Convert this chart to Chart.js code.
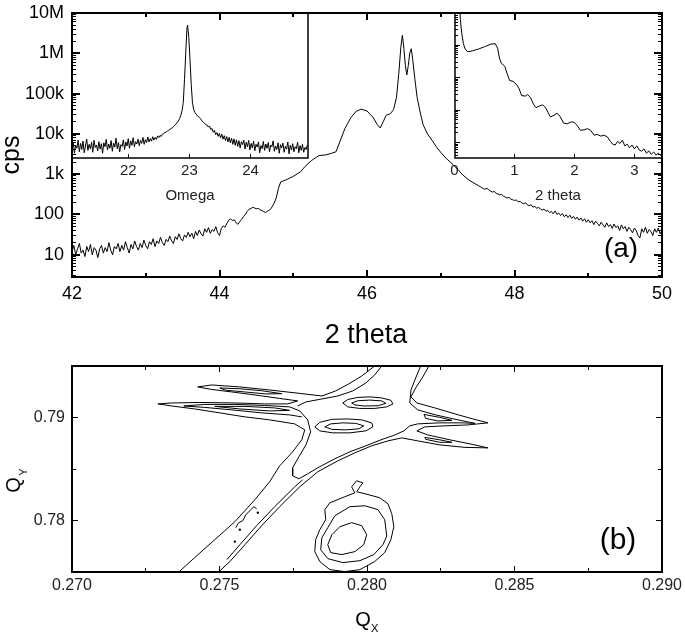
<!DOCTYPE html>
<html>
<head>
<meta charset="utf-8">
<script src="https://cdn.jsdelivr.net/npm/chart.js@4.4.1/dist/chart.umd.min.js"></script>
<style>
html, body { margin: 0; padding: 0; background: #fff; }
#wrap { position: relative; width: 685px; height: 635px; }
#wrap canvas { position: absolute; left: 0; top: 0; }
</style>
</head>
<body>
<div id="wrap">
  <canvas id="contour" width="685" height="635"></canvas>
  <canvas id="omega" width="685" height="635"></canvas>
  <canvas id="refl" width="685" height="635"></canvas>
  <canvas id="main" width="685" height="635"></canvas>
</div>
<script>
// ---- (a) main 2theta scan: [2theta, cps] ----
var mainScan = [
  [42.000,12],[42.025,17],[42.050,10],[42.075,14],[42.100,19],[42.125,11],[42.150,13],[42.175,9],[42.200,16],[42.225,12],
  [42.250,18],[42.275,10],[42.300,15],[42.325,13],[42.350,8.5],[42.375,14],[42.400,17],[42.425,11],[42.450,15],[42.475,12],
  [42.500,20],[42.525,13],[42.550,10],[42.575,16],[42.600,14],[42.625,19],[42.650,12],[42.675,17],[42.700,13],[42.725,21],
  [42.750,15],[42.775,11],[42.800,18],[42.825,14],[42.850,22],[42.875,16],[42.900,13],[42.925,19],[42.950,15],[42.975,23],
  [43.000,17],[43.025,14],[43.050,21],[43.075,18],[43.100,25],[43.125,16],[43.150,22],[43.175,19],[43.200,27],[43.225,20],
  [43.250,17],[43.275,24],[43.300,21],[43.325,29],[43.350,22],[43.375,19],[43.400,28],[43.425,24],[43.450,33],[43.475,25],
  [43.500,22],[43.525,31],[43.550,27],[43.575,36],[43.600,28],[43.625,34],[43.650,25],[43.675,38],[43.700,30],[43.725,41],
  [43.750,33],[43.775,29],[43.800,44],[43.825,36],[43.850,47],[43.875,34],[43.900,42],[43.925,38],[43.950,50],[43.975,35],
  [44.000,30],[44.025,45],[44.050,52],[44.075,48],[44.100,60],[44.125,72],[44.150,78],[44.175,70],[44.200,74],[44.225,62],
  [44.250,57],[44.275,66],[44.300,75],[44.325,88],[44.350,100],[44.375,118],[44.400,135],[44.425,140],[44.450,150],[44.475,145],
  [44.500,138],[44.525,142],[44.550,130],[44.575,124],[44.600,118],[44.625,112],[44.650,120],[44.675,128],[44.700,140],[44.740,190],
  [44.770,260],[44.800,450],[44.830,640],[44.900,720],[45.000,880],[45.100,1150],[45.160,1550],[45.250,2200],[45.350,2900],[45.440,3000],
  [45.520,3300],[45.580,3600],[45.640,7000],[45.700,13500],[45.780,25000],[45.850,36000],[45.920,41000],[46.000,37000],[46.080,26000],[46.140,17000],
  [46.180,14000],[46.220,20000],[46.260,29000],[46.320,32000],[46.360,40000],[46.400,80000],[46.430,300000],[46.460,1500000],[46.480,2800000],[46.500,1300000],
  [46.520,500000],[46.540,290000],[46.560,500000],[46.580,1000000],[46.600,1300000],[46.620,700000],[46.650,220000],[46.680,80000],[46.720,35000],[46.760,17000],
  [46.820,10000],[46.880,7000],[46.950,4500],[47.010,3300],[47.080,2400],[47.170,1700],[47.240,1250],[47.300,950],[47.380,720],[47.450,600],
  [47.510,520],[47.550,470],[47.575,440],[47.600,420],[47.625,445],[47.650,410],[47.675,380],[47.700,360],[47.725,370],[47.750,335],
  [47.775,320],[47.800,305],[47.825,315],[47.850,285],[47.875,270],[47.900,255],[47.925,265],[47.950,240],[47.975,232],[48.000,222],
  [48.025,230],[48.050,205],[48.075,212],[48.100,192],[48.125,185],[48.150,195],[48.175,172],[48.200,165],[48.225,174],[48.250,152],
  [48.275,160],[48.300,142],[48.325,150],[48.350,138],[48.375,128],[48.400,136],[48.425,120],[48.450,126],[48.475,112],[48.500,118],
  [48.525,104],[48.550,122],[48.575,100],[48.600,108],[48.625,94],[48.650,105],[48.675,88],[48.700,98],[48.725,84],[48.750,96],
  [48.775,80],[48.800,90],[48.825,76],[48.850,86],[48.875,72],[48.900,82],[48.925,68],[48.950,78],[48.975,64],[49.000,74],
  [49.025,62],[49.050,70],[49.075,56],[49.100,68],[49.125,60],[49.150,52],[49.175,64],[49.200,55],[49.225,48],[49.250,62],
  [49.275,50],[49.300,56],[49.325,45],[49.350,58],[49.375,47],[49.400,52],[49.425,40],[49.450,55],[49.475,44],[49.500,50],
  [49.525,38],[49.550,48],[49.575,42],[49.600,35],[49.625,46],[49.650,40],[49.675,30],[49.700,26],[49.725,44],[49.750,36],
  [49.775,48],[49.800,34],[49.825,42],[49.850,38],[49.875,30],[49.900,44],[49.925,36],[49.950,46],[49.975,33],[50.000,40]];
var mainXTicks = [42, 44, 46, 48, 50];
var mainXMinor = [43, 45, 47, 49];
var mainYTicks = [10, 100, 1000, 10000, 100000, 1000000, 10000000];
var mainYLabels = ['10', '100', '1k', '10k', '100k', '1M', '10M'];

// ---- inset: omega rocking curve [omega, cps] ----
var omegaScan = [
  [21.08,4200],[21.10,6100],[21.12,3300],[21.14,5200],[21.16,4400],[21.18,7000],[21.20,3600],[21.22,5800],[21.24,4100],[21.26,6600],
  [21.28,3400],[21.30,5000],[21.32,7400],[21.34,3900],[21.36,5500],[21.38,4300],[21.40,6200],[21.42,3500],[21.44,6900],[21.46,4600],
  [21.48,5300],[21.50,3800],[21.52,6400],[21.54,4200],[21.56,5700],[21.58,3300],[21.60,6000],[21.62,4800],[21.64,7300],[21.66,4000],
  [21.68,5600],[21.70,4400],[21.72,6800],[21.74,3700],[21.76,5900],[21.78,4700],[21.80,7800],[21.82,4300],[21.84,6100],[21.86,3600],
  [21.88,5400],[21.90,4900],[21.92,7100],[21.94,4100],[21.96,6300],[21.98,5000],[22.00,7600],[22.02,4400],[22.04,6700],[22.06,5200],
  [22.08,8000],[22.10,4800],[22.12,6400],[22.14,5600],[22.16,7400],[22.18,5100],[22.20,6900],[22.22,5800],[22.24,8200],[22.26,5500],
  [22.28,7200],[22.30,6100],[22.32,8400],[22.34,6300],[22.36,7600],[22.38,6600],[22.40,8500],[22.42,7000],[22.44,8200],[22.46,7300],
  [22.48,8900],[22.50,8100],[22.52,9200],[22.54,8600],[22.56,9900],[22.58,10200],[22.60,10800],[22.62,11000],[22.64,11800],[22.66,12200],
  [22.68,12800],[22.70,13500],[22.72,14200],[22.74,15000],[22.76,16200],[22.78,17500],[22.80,19000],[22.82,21000],[22.84,24000],[22.86,29000],
  [22.88,38000],[22.90,60000],[22.92,220000],[22.94,1000000],[22.96,4200000],[22.97,5000000],[22.99,2500000],[23.01,700000],[23.03,170000],[23.05,60000],
  [23.07,40000],[23.09,34000],[23.11,31000],[23.13,28000],[23.15,27000],[23.17,24500],[23.19,23000],[23.21,20500],[23.23,19500],[23.25,18000],
  [23.27,17000],[23.29,16500],[23.31,14800],[23.33,15600],[23.35,12800],[23.37,13600],[23.39,11000],[23.41,12200],[23.43,9600],[23.45,10800],
  [23.47,8700],[23.49,10300],[23.51,8000],[23.53,9800],[23.55,7400],[23.57,9000],[23.59,6800],[23.61,8600],[23.63,6300],[23.65,8200],
  [23.67,6000],[23.69,7800],[23.71,5500],[23.73,7500],[23.75,5200],[23.77,7100],[23.79,4900],[23.81,6800],[23.83,4500],[23.85,6400],
  [23.87,5400],[23.89,7000],[23.91,4200],[23.93,6200],[23.95,4800],[23.97,6900],[23.99,4000],[24.01,5800],[24.03,4500],[24.05,6600],
  [24.07,3800],[24.09,5500],[24.11,4700],[24.13,6300],[24.15,3400],[24.17,5100],[24.19,4300],[24.21,6500],[24.23,3900],[24.25,5600],
  [24.27,4400],[24.29,6100],[24.31,3600],[24.33,5300],[24.35,4800],[24.37,6700],[24.39,3700],[24.41,5000],[24.43,4100],[24.45,6000],
  [24.47,3300],[24.49,5400],[24.51,4500],[24.53,5900],[24.55,3500],[24.57,4900],[24.59,4200],[24.61,6300],[24.63,3200],[24.65,5200],
  [24.67,4000],[24.69,5700],[24.71,3600],[24.73,4800],[24.75,4300],[24.77,6200],[24.79,3400],[24.81,5100],[24.83,3900],[24.85,5500],
  [24.87,3500],[24.89,4600],[24.91,4100],[24.93,5300]];
var omegaTicks = [22, 23, 24];

// ---- inset: low angle 2theta [2theta, cps] ----
var reflScan = [
  [0.08,200000],[0.10,60000],[0.12,25000],[0.15,11000],[0.18,7500],[0.22,6200],[0.30,6600],[0.40,7500],[0.50,8800],[0.60,10500],
  [0.68,11000],[0.72,8000],[0.75,4000],[0.78,2800],[0.84,2200],[0.88,1300],[0.92,820],[0.98,760],[1.04,600],[1.08,450],
  [1.12,280],[1.18,270],[1.22,300],[1.27,240],[1.32,150],[1.36,120],[1.42,135],[1.47,145],[1.52,120],[1.56,85],
  [1.60,62],[1.66,70],[1.71,80],[1.76,65],[1.82,40],[1.88,38],[1.95,44],[2.00,42],[2.05,33],[2.10,24],
  [2.16,25],[2.22,27],[2.27,24],[2.33,17],[2.38,18],[2.44,16],[2.50,17],[2.55,15],[2.60,11],[2.64,9],
  [2.68,8.5],[2.72,11],[2.76,9.5],[2.80,12],[2.84,8],[2.88,9],[2.92,7],[2.96,8.5],[3.00,6.5],[3.04,8],
  [3.08,6],[3.12,5.5],[3.16,6.5],[3.20,4.8],[3.24,5.6],[3.28,4.4],[3.32,5.2],[3.36,4.2],[3.40,4.8],[3.44,4.0],[3.48,4.5]];
var reflTicks = [0, 1, 2, 3];
var reflYTicks = [10, 100, 1000, 10000];

// ---- (b) reciprocal space map, contour lines [Qx, Qy] ----
var qxTicks = [0.270, 0.275, 0.280, 0.285, 0.290];
var qxMinor = [0.2725, 0.2775, 0.2825, 0.2875];
var qyTicks = [0.78, 0.79];
var qyMinor = [0.785];
var contourOuterLeft = [[0.27362,0.77500],[0.27416,0.77640],[0.27484,0.77814],[0.27552,0.77988],[0.27620,0.78202],[0.27670,0.78376],[0.27704,0.78531],[0.27745,0.78657],[0.27779,0.78783],[0.27789,0.78880],[0.27755,0.78938],[0.27670,0.78977],[0.27586,0.79006],[0.27501,0.79045],[0.27416,0.79083],[0.27338,0.79112],[0.27291,0.79132],[0.27338,0.79141],[0.27433,0.79146],[0.27552,0.79141],[0.27653,0.79132],[0.27731,0.79132],[0.27765,0.79161],[0.27704,0.79185],[0.27620,0.79219],[0.27542,0.79248],[0.27474,0.79272],[0.27426,0.79297],[0.27474,0.79316],[0.27569,0.79297],[0.27670,0.79267],[0.27772,0.79234],[0.27847,0.79209],[0.27894,0.79258],[0.27938,0.79326],[0.27982,0.79403],[0.28013,0.79471],[0.28026,0.79500]];
var contourOuterRight = [[0.28210,0.79500],[0.28189,0.79393],[0.28165,0.79287],[0.28149,0.79200],[0.28169,0.79141],[0.28230,0.79093],[0.28298,0.79035],[0.28359,0.78986],[0.28410,0.78948],[0.28342,0.78928],[0.28264,0.78919],[0.28196,0.78909],[0.28169,0.78870],[0.28206,0.78831],[0.28281,0.78783],[0.28349,0.78744],[0.28410,0.78705],[0.28332,0.78710],[0.28247,0.78734],[0.28172,0.78773],[0.28118,0.78802],[0.28071,0.78773],[0.28016,0.78725],[0.27959,0.78657],[0.27901,0.78579],[0.27833,0.78473],[0.27772,0.78327],[0.27704,0.78134],[0.27643,0.77950],[0.27586,0.77765],[0.27535,0.77601],[0.27497,0.77500]];
var contourStreakRight = [[0.27525,0.77620],[0.27569,0.77765],[0.27626,0.77950],[0.27687,0.78134],[0.27755,0.78327],[0.27782,0.78395]];
var contourInner = [[0.27779,0.79006],[0.27738,0.79025],[0.27643,0.79045],[0.27542,0.79074],[0.27450,0.79098],[0.27379,0.79112],[0.27450,0.79127],[0.27552,0.79127],[0.27653,0.79117],[0.27738,0.79103],[0.27772,0.79064],[0.27799,0.78977],[0.27809,0.78860],[0.27793,0.78734],[0.27769,0.78618],[0.27748,0.78512],[0.27748,0.78434],[0.27769,0.78405],[0.27799,0.78453],[0.27833,0.78512],[0.27891,0.78599],[0.27942,0.78667],[0.27996,0.78725],[0.28047,0.78783],[0.28091,0.78827],[0.28125,0.78870],[0.28145,0.78919],[0.28172,0.78938],[0.28247,0.78948],[0.28322,0.78948],[0.28366,0.78943],[0.28308,0.78977],[0.28233,0.79025],[0.28172,0.79074],[0.28145,0.79141],[0.28149,0.79267],[0.28165,0.79384],[0.28182,0.79500]];
var contourTopLeft = [[0.28050,0.79500],[0.28026,0.79413],[0.27996,0.79335],[0.27952,0.79258],[0.27901,0.79209],[0.27847,0.79180],[0.27793,0.79151],[0.27765,0.79112]];
var contourArmLeft = [[0.27501,0.79287],[0.27569,0.79279],[0.27643,0.79260],[0.27711,0.79231],[0.27657,0.79229],[0.27586,0.79248],[0.27521,0.79265],[0.27501,0.79287]];
var contourArmLeftLow = [[0.27484,0.79108],[0.27586,0.79108],[0.27687,0.79093],[0.27738,0.79069],[0.27670,0.79064],[0.27569,0.79083],[0.27484,0.79108]];
var contourPeakUpper = [[0.27918,0.79141],[0.27935,0.79175],[0.27969,0.79195],[0.28010,0.79200],[0.28050,0.79190],[0.28081,0.79167],[0.28088,0.79132],[0.28067,0.79103],[0.28026,0.79088],[0.27976,0.79088],[0.27935,0.79103],[0.27918,0.79141]];
var contourPeakUpperIn = [[0.27948,0.79141],[0.27969,0.79163],[0.28010,0.79169],[0.28050,0.79161],[0.28064,0.79137],[0.28037,0.79114],[0.27989,0.79112],[0.27959,0.79122],[0.27948,0.79141]];
var contourPeakLower = [[0.27823,0.78909],[0.27840,0.78953],[0.27881,0.78982],[0.27935,0.78986],[0.27982,0.78977],[0.28016,0.78948],[0.28020,0.78909],[0.27996,0.78870],[0.27942,0.78851],[0.27884,0.78851],[0.27840,0.78870],[0.27823,0.78909]];
var contourPeakLowerIn = [[0.27857,0.78909],[0.27877,0.78938],[0.27918,0.78948],[0.27962,0.78943],[0.27989,0.78919],[0.27972,0.78890],[0.27928,0.78880],[0.27881,0.78885],[0.27857,0.78909]];
var contourArmRight = [[0.28193,0.79030],[0.28247,0.79001],[0.28288,0.78972],[0.28240,0.78967],[0.28199,0.78991],[0.28193,0.79030]];
var contourArmRightLow = [[0.28196,0.78807],[0.28247,0.78783],[0.28288,0.78759],[0.28247,0.78759],[0.28199,0.78788],[0.28196,0.78807]];
var contourStreakNoise = [[0.27555,0.77930],[0.27565,0.77979],[0.27579,0.77998],[0.27589,0.78056],[0.27603,0.78095],[0.27616,0.78134],[0.27626,0.78114]];
var contourDots = [[0.27552,0.77795],[0.27630,0.78076],[0.27569,0.77911]];
var contourSubOuter = [[0.27965,0.78386],[0.27986,0.78366],[0.27976,0.78327],[0.27965,0.78279],[0.27993,0.78260],[0.28043,0.78221],[0.28071,0.78163],[0.28084,0.78066],[0.28091,0.77940],[0.28081,0.77814],[0.28060,0.77688],[0.28026,0.77601],[0.27976,0.77523],[0.27925,0.77504],[0.27874,0.77523],[0.27840,0.77601],[0.27823,0.77698],[0.27826,0.77814],[0.27840,0.77911],[0.27860,0.78008],[0.27857,0.78105],[0.27874,0.78172],[0.27925,0.78231],[0.27959,0.78269],[0.27948,0.78327],[0.27965,0.78386]];
var contourSubMid = [[0.27942,0.78134],[0.27993,0.78143],[0.28037,0.78105],[0.28060,0.78008],[0.28067,0.77849],[0.28054,0.77765],[0.28023,0.77669],[0.27976,0.77610],[0.27918,0.77591],[0.27867,0.77630],[0.27843,0.77717],[0.27847,0.77833],[0.27867,0.77930],[0.27891,0.78046],[0.27942,0.78134]];
var contourSubInner = [[0.27948,0.77979],[0.27982,0.77950],[0.27999,0.77862],[0.27989,0.77765],[0.27959,0.77698],[0.27915,0.77669],[0.27877,0.77688],[0.27867,0.77765],[0.27881,0.77862],[0.27908,0.77940],[0.27948,0.77979]];

var FONT = '"Liberation Sans", Arial, sans-serif';

function pairs(list) {
    return list.map(function (p) { return {x: p[0], y: p[1]}; });
}
function logMinors(lo, hi) {
    var out = [];
    for (var d = 1; d <= hi; d *= 10) {
        for (var m = 2; m < 10; m++) {
            var v = m * d;
            if (v > lo && v < hi) out.push(v);
        }
    }
    return out;
}
function line(data, w) {
    return {data: data, showLine: true, borderColor: '#000', borderWidth: w || 1,
        pointRadius: 0, tension: 0, fill: false};
}

// draws the box, inward ticks, tick labels and free texts
function framePlugin(cfg) {
    return {
        id: 'frame',
        beforeDraw: function (chart) {
            if (!cfg.fill) return;
            var a = chart.chartArea, ctx = chart.ctx;
            ctx.save();
            ctx.fillStyle = '#fff';
            ctx.fillRect(a.left, a.top, a.right - a.left, a.bottom - a.top);
            ctx.restore();
        },
        afterDraw: function (chart) {
            var ctx = chart.ctx, a = chart.chartArea;
            var xs = chart.scales.x, ys = chart.scales.y;
            ctx.save();
            ctx.fillStyle = '#000';
            (cfg.ticks || []).forEach(function (t) {
                var w = t.width || 1;
                t.values.forEach(function (v) {
                    if (t.axis === 'x') {
                        var px = Math.round(xs.getPixelForValue(v) - w / 2);
                        if (t.sides.indexOf('bottom') >= 0) ctx.fillRect(px, a.bottom - t.len, w, t.len);
                        if (t.sides.indexOf('top') >= 0) ctx.fillRect(px, a.top, w, t.len);
                    } else {
                        var py = Math.round(ys.getPixelForValue(v) - w / 2);
                        if (t.sides.indexOf('left') >= 0) ctx.fillRect(a.left, py, t.len, w);
                        if (t.sides.indexOf('right') >= 0) ctx.fillRect(a.right - t.len, py, t.len, w);
                    }
                });
            });
            ctx.strokeStyle = '#000';
            ctx.lineWidth = cfg.lineWidth;
            ctx.strokeRect(a.left, a.top, a.right - a.left, a.bottom - a.top);

            (cfg.labels || []).forEach(function (l) {
                ctx.font = l.font;
                ctx.fillStyle = l.color || '#000';
                ctx.textBaseline = 'middle';
                l.values.forEach(function (v, i) {
                    if (l.axis === 'x') {
                        ctx.textAlign = 'center';
                        ctx.fillText(l.texts[i], xs.getPixelForValue(v), l.at);
                    } else {
                        ctx.textAlign = 'right';
                        ctx.fillText(l.texts[i], l.at, ys.getPixelForValue(v));
                    }
                });
            });

            (cfg.texts || []).forEach(function (t) {
                ctx.save();
                ctx.font = t.font;
                ctx.fillStyle = t.color || '#000';
                ctx.textAlign = t.align || 'center';
                ctx.textBaseline = 'alphabetic';
                ctx.translate(t.x, t.y);
                if (t.rotate) ctx.rotate(t.rotate);
                ctx.fillText(t.text, 0, 0);
                ctx.restore();
            });
            ctx.restore();
        }
    };
}

function baseOptions(pad, xr, yr, ylog) {
    return {
        responsive: false,
        animation: false,
        devicePixelRatio: 1,
        events: [],
        layout: {padding: pad},
        plugins: {legend: {display: false}, tooltip: {enabled: false}},
        scales: {
            x: {type: 'linear', min: xr[0], max: xr[1], display: false},
            y: {type: ylog ? 'logarithmic' : 'linear', min: yr[0], max: yr[1], display: false}
        }
    };
}

// (b) contour map
new Chart(document.getElementById('contour'), {
    type: 'scatter',
    data: {
        datasets: [
            line(pairs(contourOuterLeft)), line(pairs(contourOuterRight)), line(pairs(contourStreakRight)),
            line(pairs(contourInner)), line(pairs(contourTopLeft)), line(pairs(contourArmLeft)),
            line(pairs(contourArmLeftLow)), line(pairs(contourPeakUpper)), line(pairs(contourPeakUpperIn)),
            line(pairs(contourPeakLower)), line(pairs(contourPeakLowerIn)), line(pairs(contourArmRight)),
            line(pairs(contourArmRightLow)), line(pairs(contourStreakNoise)),
            line(pairs(contourSubOuter)), line(pairs(contourSubMid)), line(pairs(contourSubInner)),
            {data: pairs(contourDots), pointRadius: 1.2, pointBackgroundColor: '#000', pointBorderWidth: 0, showLine: false}
        ]
    },
    options: baseOptions({left: 72, top: 366, right: 23, bottom: 63}, [0.270, 0.290], [0.775, 0.795], false),
    plugins: [framePlugin({
        lineWidth: 2,
        ticks: [
            {axis: 'x', values: qxTicks, len: 6, sides: ['bottom', 'top']},
            {axis: 'x', values: qxMinor, len: 4, sides: ['bottom', 'top']},
            {axis: 'y', values: qyTicks, len: 6, sides: ['left', 'right']},
            {axis: 'y', values: qyMinor, len: 4, sides: ['left', 'right']}
        ],
        labels: [
            {axis: 'x', values: qxTicks, texts: ['0.270', '0.275', '0.280', '0.285', '0.290'], at: 586, font: '16px ' + FONT, color: '#222'},
            {axis: 'y', values: qyTicks, texts: ['0.78', '0.79'], at: 65, font: '16px ' + FONT, color: '#222'}
        ],
        texts: [
            {text: 'Q', x: 20, y: 485, font: '20px ' + FONT, rotate: -Math.PI / 2},
            {text: 'Y', x: 27, y: 472, font: '11px ' + FONT, rotate: -Math.PI / 2},
            {text: 'Q', x: 363, y: 626, font: '20px ' + FONT},
            {text: 'X', x: 371, y: 632, font: '11px ' + FONT, align: 'left'},
            {text: '(b)', x: 618, y: 549, font: '30px ' + FONT}
        ]
    })]
});

// omega inset
new Chart(document.getElementById('omega'), {
    type: 'scatter',
    data: {datasets: [line(pairs(omegaScan))]},
    options: baseOptions({left: 72, top: 13, right: 377, bottom: 477}, [21.08, 24.94], [2520, 1e7], true),
    plugins: [framePlugin({
        fill: true,
        lineWidth: 1.5,
        ticks: [{axis: 'x', values: omegaTicks, len: 4, sides: ['bottom']}],
        labels: [{axis: 'x', values: omegaTicks, texts: ['22', '23', '24'], at: 171, font: '15px ' + FONT, color: '#222'}],
        texts: [{text: 'Omega', x: 190, y: 200, font: '15px ' + FONT, color: '#222'}]
    })]
});

// low-angle inset
new Chart(document.getElementById('refl'), {
    type: 'scatter',
    data: {datasets: [line(pairs(reflScan))]},
    options: baseOptions({left: 455, top: 13, right: 23, bottom: 477}, [0.01, 3.46], [3.4, 96000], true),
    plugins: [framePlugin({
        fill: true,
        lineWidth: 1.5,
        ticks: [
            {axis: 'x', values: [1, 2, 3], len: 4, sides: ['bottom']},
            {axis: 'y', values: reflYTicks, len: 5, sides: ['left']},
            {axis: 'y', values: logMinors(3.4, 96000), len: 3, sides: ['left']}
        ],
        labels: [{axis: 'x', values: reflTicks, texts: ['0', '1', '2', '3'], at: 171, font: '15px ' + FONT, color: '#222'}],
        texts: [{text: '2 theta', x: 558, y: 200, font: '15px ' + FONT, color: '#222'}]
    })]
});

// (a) main scan, drawn last so its frame ticks sit over the insets
new Chart(document.getElementById('main'), {
    type: 'scatter',
    data: {datasets: [line(pairs(mainScan))]},
    options: baseOptions({left: 72, top: 13, right: 23, bottom: 358}, [42, 50], [2.8, 1e7], true),
    plugins: [framePlugin({
        lineWidth: 2,
        ticks: [
            {axis: 'x', values: mainXTicks, len: 7, width: 2, sides: ['bottom', 'top']},
            {axis: 'x', values: mainXMinor, len: 4, width: 2, sides: ['bottom', 'top']},
            {axis: 'y', values: mainYTicks, len: 8, width: 2, sides: ['left', 'right']},
            {axis: 'y', values: logMinors(2.8, 1e7), len: 4, sides: ['left', 'right']}
        ],
        labels: [
            {axis: 'x', values: mainXTicks, texts: ['42', '44', '46', '48', '50'], at: 294, font: '18px ' + FONT},
            {axis: 'y', values: mainYTicks, texts: mainYLabels, at: 64, font: '18px ' + FONT}
        ],
        texts: [
            {text: 'cps', x: 19, y: 155, font: '25px ' + FONT, rotate: -Math.PI / 2},
            {text: '2 theta', x: 366, y: 343, font: '27px ' + FONT},
            {text: '(a)', x: 621, y: 257, font: '28px ' + FONT}
        ]
    })]
});
</script>
</body>
</html>
